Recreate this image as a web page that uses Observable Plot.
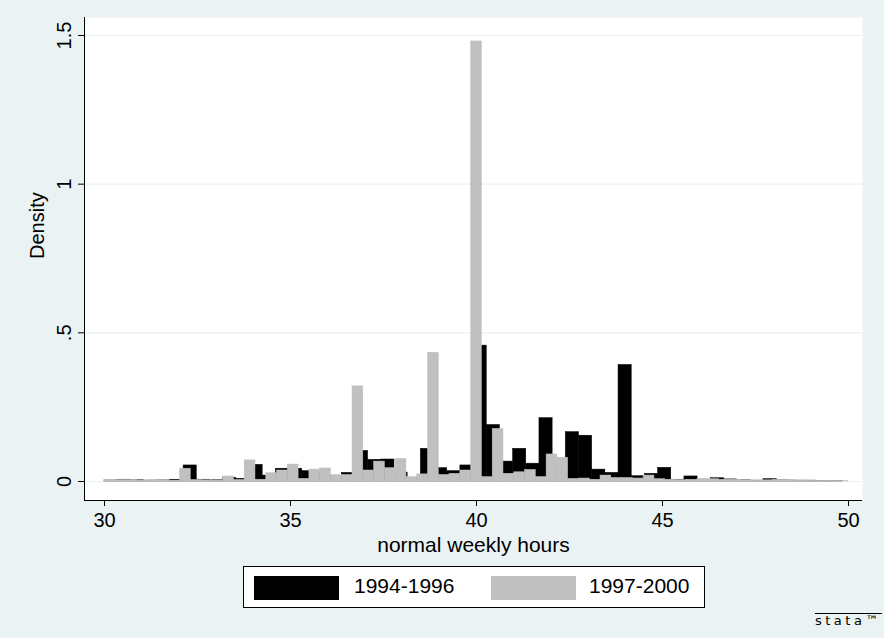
<!DOCTYPE html>
<html><head><meta charset="utf-8">
<script src="https://cdn.jsdelivr.net/npm/d3@7"></script>
<script src="https://cdn.jsdelivr.net/npm/@observablehq/plot@0.6"></script>
<style>
body{margin:0;background:#eaf2f3;font-family:"Liberation Sans",Arial,sans-serif;}
#wrap{position:relative;width:884px;height:638px;overflow:hidden;}
#legend{position:absolute;left:243px;top:566px;width:462px;height:42px;background:#fff;border:1px solid #000;box-sizing:border-box;}
.key{position:absolute;top:9px;width:85px;height:24px;}
.lab{position:absolute;top:7px;font-size:21px;color:#000;}
#logo{position:absolute;left:815px;top:613px;font-size:13px;letter-spacing:3.5px;color:#000;border-top:1px solid #000;line-height:14px;font-family:"DejaVu Sans",sans-serif;}
</style></head><body><div id="wrap"></div>
<script>
const xTicks = [30, 35, 40, 45, 50];
const yTicks = [0, 0.5, 1, 1.5];
const yTickLabels = ["0", ".5", "1", "1.5"];
const seriesNames = ["1994-1996", "1997-2000"];
const seriesColors = ["#000000", "#c0c0c0"];

// 1994-1996: bins start at 30, width 0.3543
const blackStart = 30, blackWidth = 0.3543;
const blackDensity = [
  0.004, 0.006, 0.004, 0.003, 0.004, 0.006, 0.054, 0.006, 0.004, 0.012,
  0.009, 0.056, 0.020, 0.043, 0.043, 0.035, 0.030, 0.018, 0.029, 0.103,
  0.073, 0.074, 0.030, 0.012, 0.110, 0.045, 0.035, 0.054, 0.457, 0.190,
  0.067, 0.110, 0.060, 0.213, 0.050, 0.166, 0.154, 0.040, 0.029, 0.392,
  0.018, 0.026, 0.046, 0.006, 0.017, 0.006, 0.011, 0.007, 0.005, 0.003,
  0.008, 0.005, 0.003, 0.003, 0.002, 0.002
];
// 1997-2000: bins start at 30, width 20/69
const grayStart = 30, grayWidth = 20 / 69;
const grayDensity = [
  0.006, 0.005, 0.005, 0.003, 0.005, 0.005, 0.003, 0.043, 0.005, 0.004,
  0.003, 0.017, 0.005, 0.071, 0.006, 0.028, 0.037, 0.057, 0.009, 0.040,
  0.044, 0.022, 0.022, 0.320, 0.037, 0.067, 0.045, 0.076, 0.015, 0.024,
  0.433, 0.022, 0.026, 0.037, 1.480, 0.015, 0.177, 0.026, 0.031, 0.039,
  0.015, 0.091, 0.080, 0.009, 0.010, 0.006, 0.020, 0.012, 0.012, 0.010,
  0.020, 0.008, 0.006, 0.005, 0.006, 0.009, 0.008, 0.006, 0.006, 0.005,
  0.003, 0.004, 0.006, 0.006, 0.003, 0.002, 0.002, 0.002, 0.001
];

const bins = (start, width, vals, s) => vals.map((v, i) => ({x1: start + i * width, x2: start + (i + 1) * width, y: v, s}));
const blackRows = bins(blackStart, blackWidth, blackDensity, seriesNames[0]);
const grayRows = bins(grayStart, grayWidth, grayDensity, seriesNames[1]);

const xDom = [29.462, 50.376], yDom = [-0.0639, 1.5605];

const chart = Plot.plot({
  width: 884, height: 638,
  marginLeft: 84, marginRight: 22, marginTop: 17, marginBottom: 138,
  style: {background: "transparent", fontFamily: "'Liberation Sans', Arial, sans-serif", fontSize: "20px", color: "#000"},
  x: {domain: xDom, label: null},
  y: {domain: yDom, label: null},
  color: {domain: seriesNames, range: seriesColors},
  marks: [
    Plot.frame({fill: "white", stroke: null}),
    Plot.gridY(yTicks, {stroke: "#eaf2f3", strokeOpacity: 1, strokeWidth: 1.2}),
    Plot.rectY(blackRows, {x1: "x1", x2: "x2", y1: 0, y2: "y", fill: "s", stroke: "s", strokeWidth: 0.5}),
    Plot.rectY(grayRows, {x1: "x1", x2: "x2", y1: 0, y2: "y", fill: "s", stroke: "s", strokeWidth: 0.5}),
    Plot.axisX({ticks: xTicks, tickSize: 6, tickPadding: 6, fontSize: 20, stroke: "#000", label: null}),
    Plot.axisY({ticks: yTicks, tickFormat: (d) => yTickLabels[yTicks.indexOf(d)], tickSize: 6, tickPadding: 8, tickRotate: -90, fontSize: 20, stroke: "#000", label: null}),
    Plot.ruleX([xDom[0]], {stroke: "#000", strokeWidth: 1}),
    Plot.ruleY([yDom[0]], {stroke: "#000", strokeWidth: 1}),
    Plot.text(["normal weekly hours"], {frameAnchor: "bottom", dy: 51, fontSize: 21, fill: "#000"}),
    Plot.text(["Density"], {frameAnchor: "left", dx: -47, rotate: -90, fontSize: 20, fill: "#000"})
  ]
});
const wrap = document.getElementById("wrap");
wrap.appendChild(chart);

const leg = document.createElement("div");
leg.id = "legend";
leg.innerHTML =
  `<div class="key" style="left:10px;background:${seriesColors[0]}"></div><div class="lab" style="left:110px">${seriesNames[0]}</div>` +
  `<div class="key" style="left:247px;background:${seriesColors[1]}"></div><div class="lab" style="left:345px">${seriesNames[1]}</div>`;
wrap.appendChild(leg);
const logo = document.createElement("div");
logo.id = "logo";
logo.textContent = "stata\u2122";
wrap.appendChild(logo);
</script></body></html>
